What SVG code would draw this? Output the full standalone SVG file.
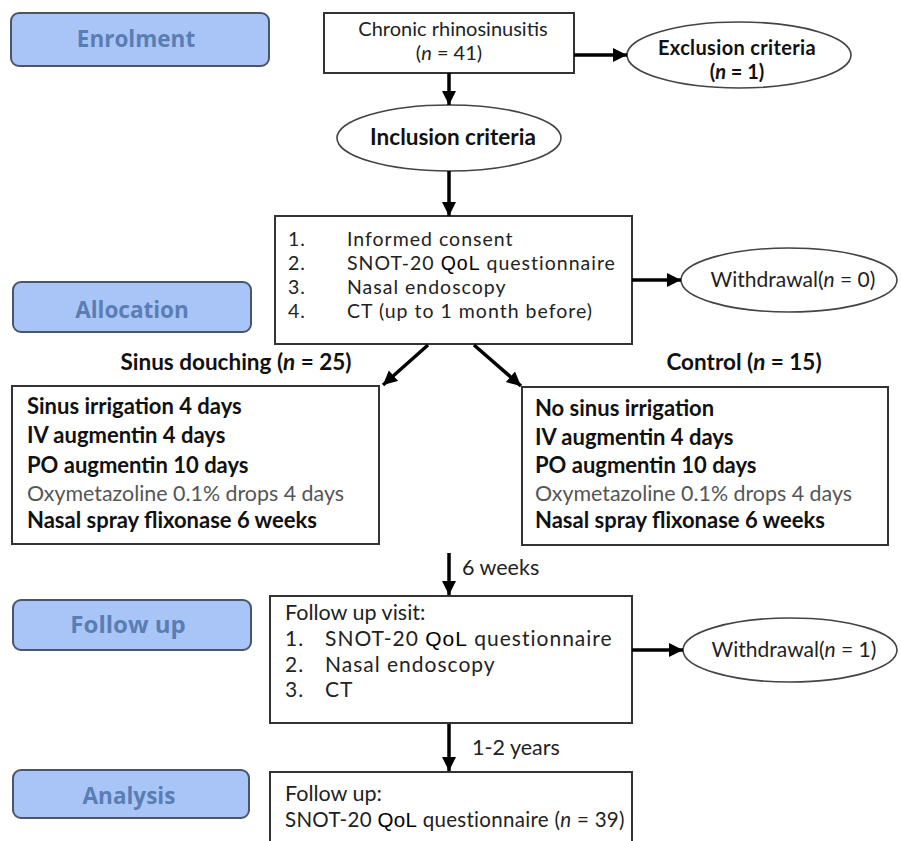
<svg xmlns="http://www.w3.org/2000/svg" width="901" height="841" viewBox="0 0 901 841">
<defs>
<marker id="ah" markerUnits="userSpaceOnUse" markerWidth="16" markerHeight="16" refX="14" refY="7" orient="auto">
<path d="M0,0 L14,7 L0,14 Z" fill="#000"/>
</marker>
<style>
.lbl rect{fill:#a9c5f7;stroke:#4a5568;stroke-width:2}
.lbl text{font-family:"Open Sans",Lato,"Liberation Sans",sans-serif;font-weight:bold;font-size:22.5px;fill:#5a7db3;text-anchor:middle}
.box{fill:#fff;stroke:#333;stroke-width:2}
.ell{fill:#fff;stroke:#444;stroke-width:1.6}
text{font-family:Lato,"Open Sans","Liberation Sans",sans-serif}
.t{font-size:21.5px;fill:#222}
.s{font-size:19.5px;letter-spacing:1px;fill:#222}
.b{font-size:22px;fill:#111;font-weight:bold}
.g{font-size:21.4px;fill:#555}
.c{text-anchor:middle}
.q{fill:#000;font-family:"Liberation Sans",sans-serif}
.f{font-size:21px;letter-spacing:1px;fill:#222}
.con line{stroke:#000;stroke-width:3.5;marker-end:url(#ah)}
</style>
</defs>
<rect width="901" height="841" fill="#fff"/>

<g id="lbl-enrolment" class="lbl"><rect x="11" y="13" width="258" height="53" rx="8"/><text x="136" y="47">Enrolment</text></g>
<g id="lbl-allocation" class="lbl"><rect x="13" y="282" width="238" height="50" rx="8"/><text x="132" y="318">Allocation</text></g>
<g id="lbl-followup" class="lbl"><rect x="13" y="600" width="238" height="50" rx="8"/><text x="128" y="633" style="font-size:24px">Follow up</text></g>
<g id="lbl-analysis" class="lbl"><rect x="13" y="770" width="236" height="48" rx="8"/><text x="129" y="804">Analysis</text></g>

<g id="n-chronic"><rect class="box" x="324" y="13" width="250" height="60"/>
<text class="c" x="453" y="36" font-size="20" fill="#222">Chronic rhinosinusitis</text>
<text class="c" x="449" y="60" font-size="20" fill="#222">(<tspan font-style="italic">n</tspan> = 41)</text></g>

<g id="n-exclusion"><ellipse class="ell" cx="739" cy="55" rx="112" ry="33"/>
<text class="c" x="737" y="55" font-size="20" font-weight="bold" fill="#111" letter-spacing="0.35">Exclusion criteria</text>
<text class="c" x="737" y="79" font-size="20" font-weight="bold" fill="#111">(<tspan font-style="italic">n</tspan> = 1)</text></g>

<g id="n-inclusion"><ellipse class="ell" cx="449" cy="138" rx="112" ry="33"/>
<text class="c" x="453" y="145" font-size="22.5" font-weight="bold" fill="#111">Inclusion criteria</text></g>

<g id="n-baseline"><rect class="box" x="275" y="216" width="357" height="128"/>
<text class="s" x="288" y="246">1.</text><text class="s" x="347" y="246">Informed consent</text>
<text class="s" x="288" y="270">2.</text><text class="s" x="347" y="270">SNOT-20 <tspan class="q">QoL</tspan> questionnaire</text>
<text class="s" x="288" y="294">3.</text><text class="s" x="347" y="294">Nasal endoscopy</text>
<text class="s" x="288" y="318">4.</text><text class="s" x="347" y="318">CT (up to 1 month before)</text></g>

<g id="n-withdrawal0"><ellipse class="ell" cx="789" cy="280" rx="108" ry="32"/>
<text class="c" x="793" y="287" font-size="21" fill="#222">Withdrawal(<tspan font-style="italic">n</tspan> = 0)</text></g>

<text class="c" x="236" y="370" font-size="22.5" font-weight="bold" fill="#111">Sinus douching (<tspan font-style="italic">n</tspan> = 25)</text>
<text class="c" x="744" y="370" font-size="22.5" font-weight="bold" fill="#111">Control (<tspan font-style="italic">n</tspan> = 15)</text>

<g id="n-douching"><rect class="box" x="12" y="386" width="367" height="158"/>
<text class="b" x="27" y="414">Sinus irrigation 4 days</text>
<text class="b" x="27" y="443">IV augmentin 4 days</text>
<text class="b" x="27" y="473">PO augmentin 10 days</text>
<text class="g" x="27" y="501">Oxymetazoline 0.1% drops 4 days</text>
<text class="b" x="27" y="528">Nasal spray flixonase 6 weeks</text></g>

<g id="n-control"><rect class="box" x="522" y="387" width="366" height="158"/>
<text class="b" x="535" y="416">No sinus irrigation</text>
<text class="b" x="535" y="445">IV augmentin 4 days</text>
<text class="b" x="535" y="473">PO augmentin 10 days</text>
<text class="g" x="535" y="501">Oxymetazoline 0.1% drops 4 days</text>
<text class="b" x="535" y="528">Nasal spray flixonase 6 weeks</text></g>

<g id="n-followup"><rect class="box" x="270" y="596" width="362" height="127"/>
<text class="t" x="285" y="620">Follow up visit:</text>
<text class="f" x="285" y="646">1.</text><text class="f" x="325" y="646">SNOT-20 <tspan class="q">QoL</tspan> questionnaire</text>
<text class="f" x="285" y="671.5">2.</text><text class="f" x="325" y="671.5">Nasal endoscopy</text>
<text class="f" x="285" y="697">3.</text><text class="f" x="325" y="697">CT</text></g>

<g id="n-withdrawal1"><ellipse class="ell" cx="790" cy="650" rx="107" ry="32"/>
<text class="c" x="794" y="657" font-size="21" fill="#222">Withdrawal(<tspan font-style="italic">n</tspan> = 1)</text></g>

<g id="n-analysis"><rect class="box" x="270" y="772" width="362" height="80"/>
<text class="t" x="285" y="801">Follow up:</text>
<text x="285" y="827" style="font-size:20.5px;letter-spacing:0.3px;fill:#222">SNOT-20 <tspan class="q">QoL</tspan> questionnaire (<tspan font-style="italic">n</tspan> = 39)</text></g>

<text class="t" x="462" y="575">6 weeks</text>
<text class="t" x="472" y="755">1-2 years</text>

<g id="connectors" class="con">
<line x1="449" y1="73" x2="449" y2="105"/>
<line x1="574" y1="55" x2="627" y2="55"/>
<line x1="449" y1="171" x2="449" y2="216"/>
<line x1="632" y1="280" x2="681" y2="280"/>
<line x1="428" y1="345" x2="383" y2="385"/>
<line x1="474" y1="345" x2="521" y2="386"/>
<line x1="449" y1="553" x2="449" y2="595"/>
<line x1="632" y1="650" x2="683" y2="650"/>
<line x1="449" y1="724" x2="449" y2="771"/>
</g>
</svg>
